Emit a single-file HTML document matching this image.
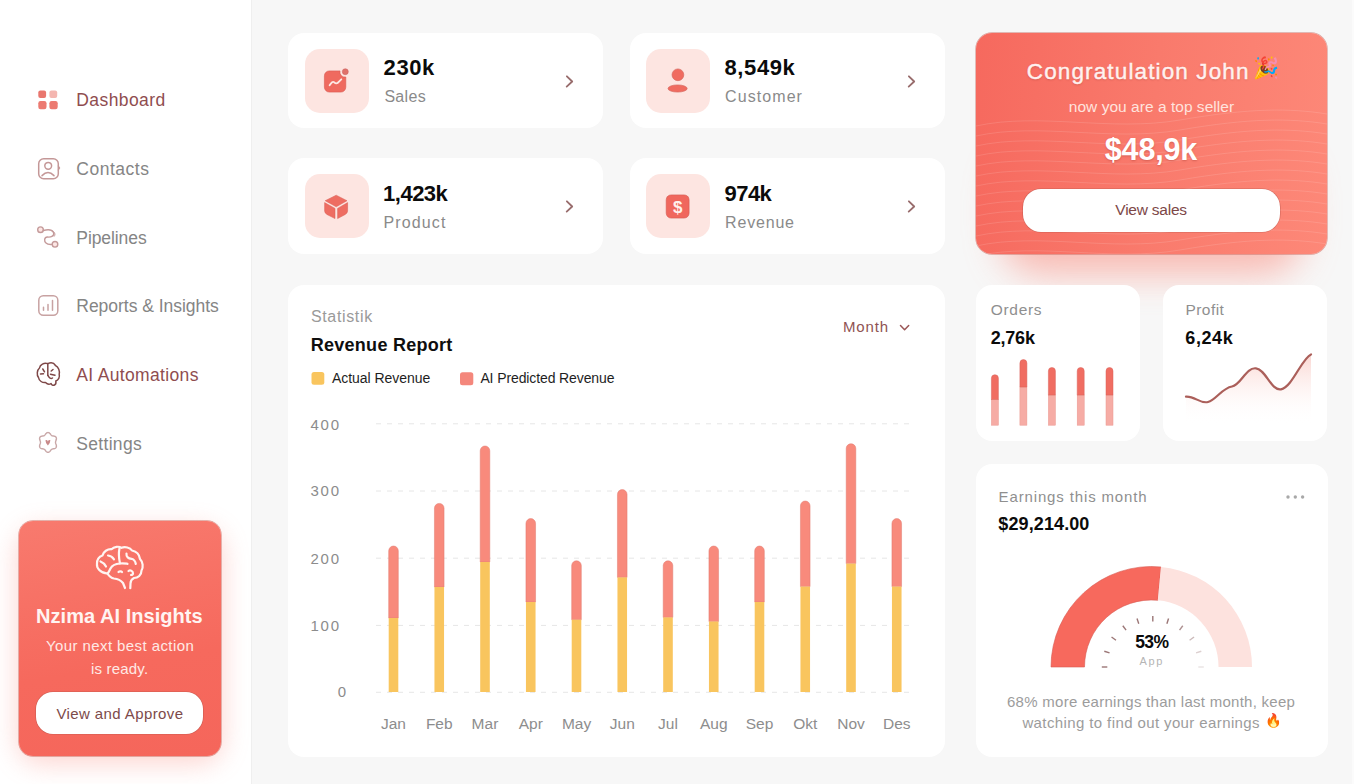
<!DOCTYPE html>
<html><head><meta charset="utf-8">
<style>
*{margin:0;padding:0;box-sizing:border-box}
html,body{width:1354px;height:784px;overflow:hidden}
body{font-family:"Liberation Sans",sans-serif;background:#f7f7f7;position:relative;color:#111}
.abs{position:absolute}
.t{position:absolute;line-height:1;white-space:nowrap}
#side{left:0;top:0;width:252px;height:784px;background:#fff;border-right:1px solid #efefef}
#rline{left:1352px;top:0;width:2px;height:784px;background:#fbfbfb}
.card{position:absolute;background:#fff;border-radius:16px}
.tile{position:absolute;width:64px;height:64px;border-radius:15px;background:#fde5e1}
.btn{position:absolute;background:#fff;border-radius:20px}
svg.full{position:absolute;left:0;top:0}
</style></head>
<body>
<div id="side" class="abs"></div>
<div id="rline" class="abs"></div>

<div class="abs" style="left:17px;top:528px;width:206px;height:236px;border-radius:24px;background:#f98a7e;filter:blur(13px);opacity:.35"></div>
<div class="card" id="ai" style="left:19px;top:521px;width:202px;height:235px;border-radius:14px;background:linear-gradient(170deg,#f87a6e 0%,#f6695d 60%,#f5665b 100%);box-shadow:0 0 0 .7px rgba(190,80,70,.55)"></div>
<div class="btn" style="left:36px;top:692px;width:167px;height:42px;border-radius:17px;box-shadow:0 0 0 .6px rgba(170,80,70,.5)"></div>

<div class="card" style="left:288px;top:33px;width:315px;height:95px"></div>
<div class="card" style="left:630px;top:33px;width:315px;height:95px"></div>
<div class="card" style="left:288px;top:158px;width:315px;height:96px"></div>
<div class="card" style="left:630px;top:158px;width:315px;height:96px"></div>
<div class="tile" style="left:304.5px;top:49px"></div>
<div class="tile" style="left:646px;top:49px"></div>
<div class="tile" style="left:304.5px;top:174px"></div>
<div class="tile" style="left:646px;top:174px"></div>

<div class="abs" style="left:1000px;top:150px;width:303px;height:125px;border-radius:40px;background:#fa8a7c;filter:blur(18px);opacity:.55"></div>
<div class="card" id="cg" style="left:976px;top:33px;width:351px;height:221px;border-radius:16px;background:linear-gradient(95deg,#f6695e 0%,#f97a6c 50%,#fd8878 100%);box-shadow:0 0 0 .7px rgba(190,80,70,.5)"></div>
<div class="btn" style="left:1022.5px;top:189px;width:257.5px;height:42.5px;border-radius:18px;box-shadow:0 0 0 .6px rgba(170,80,70,.5)"></div>

<div class="card" id="rep" style="left:288px;top:285px;width:657px;height:472px"></div>
<div class="card" style="left:976px;top:285px;width:164px;height:156px"></div>
<div class="card" style="left:1163px;top:285px;width:164px;height:156px"></div>
<div class="card" style="left:976px;top:464px;width:352px;height:293px"></div>

<svg class="full" width="1354" height="784" viewBox="0 0 1354 784">
<defs>
<clipPath id="cgc"><rect x="976" y="33" width="351" height="221" rx="16"/></clipPath>
<linearGradient id="pg" x1="0" y1="0" x2="0" y2="1"><stop offset="0" stop-color="#f9c9c3" stop-opacity=".75"/><stop offset="1" stop-color="#fff" stop-opacity="0"/></linearGradient>
</defs>
<!-- wave texture on congrats -->
<g clip-path="url(#cgc)" fill="none" stroke="#ffffff" stroke-opacity=".13" stroke-width="1">
<path d="M976 126 C1040 112 1110 132 1180 120 S1290 108 1327 114"/>
<path d="M976 136 C1040 122 1110 142 1180 130 S1290 118 1327 124"/>
<path d="M976 146 C1040 132 1110 152 1180 140 S1290 128 1327 134"/>
<path d="M976 156 C1040 142 1110 162 1180 150 S1290 138 1327 144"/>
<path d="M976 166 C1040 152 1110 172 1180 160 S1290 148 1327 154"/>
<path d="M976 176 C1040 162 1110 182 1180 170 S1290 158 1327 164"/>
<path d="M976 186 C1040 172 1110 192 1180 180 S1290 168 1327 174"/>
<path d="M976 196 C1040 182 1110 202 1180 190 S1290 178 1327 184"/>
<path d="M976 206 C1040 192 1110 212 1180 200 S1290 188 1327 194"/>
<path d="M976 216 C1040 202 1110 222 1180 210 S1290 198 1327 204"/>
<path d="M976 226 C1040 212 1110 232 1180 220 S1290 208 1327 214"/>
<path d="M976 236 C1040 222 1110 242 1180 230 S1290 218 1327 224"/>
<path d="M976 246 C1040 232 1110 252 1180 240 S1290 228 1327 234"/>
<path d="M976 256 C1040 242 1110 262 1180 250 S1290 238 1327 244"/>
</g>

<!-- sidebar icons -->
<g>
<rect x="38.3" y="90.5" width="7.8" height="7.4" rx="2" fill="#e9766e"/>
<rect x="49.4" y="90.5" width="7.8" height="7.4" rx="2" fill="#f4b6b0"/>
<rect x="38.3" y="101" width="8.2" height="8.3" rx="2.2" fill="#ec7a71"/>
<rect x="49.4" y="101" width="8.3" height="8.3" rx="2.2" fill="#ec7a71"/>
</g>
<g fill="none" stroke="#c49797" stroke-width="1.5" stroke-linecap="round">
<rect x="38.7" y="158.8" width="19.6" height="20" rx="5"/>
<circle cx="48.2" cy="165.8" r="3.4"/>
<path d="M42 175.6 Q48 169.5 54 175.6"/>
<path d="M58.3 166 l1.3 2 -1.3 2" stroke-width="1.2"/>
</g>
<g fill="none" stroke="#c49a9a" stroke-width="1.4" stroke-linecap="round">
<circle cx="40.5" cy="229.7" r="2.8" fill="#fde6e4"/>
<circle cx="55" cy="244.3" r="2.8" fill="#fde6e4"/>
<path d="M43.3 230.5 C47 229.5 52 229.5 53.5 232.5 C55 235.5 51 237.5 47.5 237 C44 237 44 241.5 46 243 C47.5 244.5 50 244.6 52.2 244.4"/>
<path d="M51.5 230.6 C54.5 231.3 56 234.2 54.3 236.3" stroke-width="1"/>
</g>
<g fill="none" stroke="#c8a2a2" stroke-width="1.5" stroke-linecap="round">
<rect x="38.8" y="295.8" width="19" height="19.4" rx="4.5"/>
<path d="M43.5 307.2V310.2M48 304.4V310.2M52.5 300.4V310.2"/>
</g>
<g transform="translate(30 354)" fill="none" stroke="#7e4747" stroke-width="1.5" stroke-linecap="round" stroke-linejoin="round">
<path d="M17.8 9.6 C14 8.5 10 10.5 9.5 14 C7 16 6.5 21 8.5 23.5 C9 27 12.5 29 15.5 28.5 C17 30 19.5 30.5 21 29.5 C21.5 31 23 31.8 24.5 31 C26.5 30 26 28.5 25.8 27 C28.5 26 30 23 29.2 20.5 C30 17 28.5 13 25.5 11.5 C24 9 21 8.3 17.8 9.6Z"/>
<path d="M17.8 9.6 V 21.5"/>
<path d="M12.8 15 L14.5 17.8 M10.5 20 L13.5 19.8 M23 15.5 L21.2 17 M20.5 20.2 L25 21.2 M18 21.5 C19 24 21 25 22.5 24"/>
</g>
<g fill="none" stroke="#c9a8a8" stroke-width="1.4">
<path d="M55.51 442.40 L55.54 442.82 L55.64 443.25 L55.80 443.70 L55.98 444.19 L56.17 444.70 L56.32 445.25 L56.41 445.80 L56.43 446.35 L56.34 446.87 L56.14 447.35 L55.85 447.77 L55.46 448.11 L55.00 448.37 L54.50 448.56 L53.98 448.69 L53.46 448.78 L52.97 448.86 L52.52 448.95 L52.11 449.07 L51.75 449.24 L51.43 449.48 L51.13 449.79 L50.83 450.16 L50.52 450.57 L50.19 451.00 L49.82 451.41 L49.41 451.77 L48.96 452.06 L48.49 452.24 L48.00 452.30 L47.51 452.24 L47.04 452.06 L46.59 451.77 L46.18 451.41 L45.81 451.00 L45.48 450.57 L45.17 450.16 L44.87 449.79 L44.57 449.48 L44.25 449.24 L43.89 449.07 L43.48 448.95 L43.03 448.86 L42.54 448.78 L42.02 448.69 L41.50 448.56 L41.00 448.37 L40.54 448.11 L40.15 447.77 L39.86 447.35 L39.66 446.87 L39.57 446.35 L39.59 445.80 L39.68 445.25 L39.83 444.70 L40.02 444.19 L40.20 443.70 L40.36 443.25 L40.46 442.82 L40.49 442.40 L40.46 441.98 L40.36 441.55 L40.20 441.10 L40.02 440.61 L39.83 440.10 L39.68 439.55 L39.59 439.00 L39.57 438.45 L39.66 437.93 L39.86 437.45 L40.15 437.03 L40.54 436.69 L41.00 436.43 L41.50 436.24 L42.02 436.11 L42.54 436.02 L43.03 435.94 L43.48 435.85 L43.89 435.73 L44.25 435.56 L44.57 435.32 L44.87 435.01 L45.17 434.64 L45.48 434.23 L45.81 433.80 L46.18 433.39 L46.59 433.03 L47.04 432.74 L47.51 432.56 L48.00 432.50 L48.49 432.56 L48.96 432.74 L49.41 433.03 L49.82 433.39 L50.19 433.80 L50.52 434.23 L50.83 434.64 L51.13 435.01 L51.43 435.32 L51.75 435.56 L52.11 435.73 L52.52 435.85 L52.97 435.94 L53.46 436.02 L53.98 436.11 L54.50 436.24 L55.00 436.43 L55.46 436.69 L55.85 437.03 L56.14 437.45 L56.34 437.93 L56.43 438.45 L56.41 439.00 L56.32 439.55 L56.17 440.10 L55.98 440.61 L55.80 441.10 L55.64 441.55 L55.54 441.98 L55.51 442.40Z"/>
</g>
<path d="M45.4 440.3 Q47.2 439.4 47.9 441.4 Q48.6 439.4 50.4 440.3 Q50.3 443.3 47.9 445.6 Q45.5 443.3 45.4 440.3Z" fill="#c98a8a"/>

<!-- AI brain icon (white) -->
<g transform="translate(90 545)" fill="none" stroke="#fff5f2" stroke-width="2.2" stroke-linecap="round" stroke-linejoin="round">
<path d="M17.5 28.5 C10 28 6.5 23 7 19 C6.5 15 9 11.5 12.5 10.5 C13.5 6.5 17.5 4 21.5 4.2 C24 1.5 29 1 31.5 2.8 C35 1.5 40 2.5 42 5.5 C46.5 6.5 49.5 10 50 14 C53 17 53.5 22 51.5 25.5 C51.5 30 48 33 44 33 C42 34 40.5 36 40.5 38.5 L40.3 43.2"/>
<path d="M17.5 28.5 C19 31 21 33 24 33.5 C28 33.8 31 35.5 33 38 L35 43"/>
<path d="M29.5 3.2 C28.5 8 29 14 30 18.5 C26 18.8 22 20.5 20.5 23.5 C19.5 25.5 18.8 27.5 17.5 28.5"/>
<path d="M30 18.5 C33 18 35.5 18.5 37.5 18.8"/>
<path d="M10.5 16.5 C13 17.5 15 19.5 16 21.5"/>
<path d="M18 10.5 C20.5 10.8 22.5 12 24 14.3"/>
<path d="M36.5 8.5 C36 12 38.5 13.5 41.5 13.8 C44 14.5 45.5 17 45.8 19"/>
<path d="M38.5 26 C40 24.8 43 25.5 43 28.3 C43 29.5 42 30 41 30"/>
<path d="M28.5 27 C29.5 26 31.5 26.2 32 27"/>
</g>
<!-- stat icons -->
<g>
<path d="M329.5 70.9 H340 A5 5 0 0 0 345.8 77 V87.1 A5 5 0 0 1 340.8 92.1 H329.4 A5 5 0 0 1 324.4 87.1 V75.9 A5 5 0 0 1 329.4 70.9Z" fill="#ef6a5f" stroke="#d95a53" stroke-width=".6"/>
<circle cx="345.3" cy="71.7" r="3" fill="#e0716a" stroke="#c86060" stroke-width=".5"/>
<path d="M329.6 85.3 C331 83.2 332.6 81 334.2 82.3 C335.6 83.6 337.2 84 339 81.6 L341.3 79.3" fill="none" stroke="#fde8e4" stroke-width="1.8" stroke-linecap="round" stroke-linejoin="round"/>
</g>
<g fill="#f06b60" stroke="#d25f57" stroke-width=".6">
<circle cx="677.9" cy="74.8" r="5.9"/>
<ellipse cx="677.6" cy="88.5" rx="9.6" ry="3.6"/>
</g>
<g fill="#ee6d62" stroke="#d65e56" stroke-width=".5">
<path d="M336.2 195.2 L347 200.7 L336.2 206.8 L325.2 200.7Z"/>
<path d="M324.6 202.6 L335 208.4 V218.6 L327 214.5 Q324.6 213 324.6 211 Z"/>
<path d="M347.6 202.6 L337.6 208.4 V218.6 L345.2 214.5 Q347.6 213 347.6 211 Z"/>
</g>
<g>
<rect x="666.2" y="194.9" width="22.9" height="23.2" rx="5" fill="#f0675d" stroke="#d35a53" stroke-width=".6"/>
<text x="677.7" y="212.8" font-family="Liberation Sans" font-weight="bold" font-size="17" fill="#fff0ec" text-anchor="middle">$</text>
</g>
<g transform="translate(0 .6)" fill="none" stroke="#986c6c" stroke-width="1.8" stroke-linecap="round" stroke-linejoin="round">
<path d="M566.9 75.7 L572.2 80.9 L566.7 86"/>
<path d="M908.9 75.7 L914.2 80.9 L908.7 86"/>
<path d="M566.9 200.7 L572.2 205.9 L566.7 211"/>
<path d="M908.9 200.7 L914.2 205.9 L908.7 211"/>
</g>

<!-- report card -->
<rect x="311.5" y="372" width="12.8" height="12.8" rx="2.5" fill="#f9c55e"/>
<rect x="460" y="372.3" width="13.3" height="13" rx="2.5" fill="#f4877c"/>
<path d="M900.5 325.5 L904.6 329.8 L908.7 325.5" fill="none" stroke="#9a5656" stroke-width="1.5" stroke-linecap="round" stroke-linejoin="round"/>
<line x1="376" y1="423.8" x2="910" y2="423.8" stroke="#e6e6e6" stroke-width="1" stroke-dasharray="5 6"/><line x1="376" y1="491" x2="910" y2="491" stroke="#e6e6e6" stroke-width="1" stroke-dasharray="5 6"/><line x1="376" y1="558.2" x2="910" y2="558.2" stroke="#e6e6e6" stroke-width="1" stroke-dasharray="5 6"/><line x1="376" y1="625.4" x2="910" y2="625.4" stroke="#e6e6e6" stroke-width="1" stroke-dasharray="5 6"/><line x1="376" y1="692.3" x2="910" y2="692.3" stroke="#e6e6e6" stroke-width="1" stroke-dasharray="5 6"/>
<path d="M388.70 618.0V550.8a4.80 4.80 0 0 1 9.60 0V618.0Z" fill="#f88a7c" stroke="#e07b70" stroke-width=".5"/>
<rect x="388.70" y="618.0" width="9.60" height="74.0" fill="#f9c55e"/>
<path d="M434.45 587.0V508.2a4.80 4.80 0 0 1 9.60 0V587.0Z" fill="#f88a7c" stroke="#e07b70" stroke-width=".5"/>
<rect x="434.45" y="587.0" width="9.60" height="105.0" fill="#f9c55e"/>
<path d="M480.20 562.0V450.8a4.80 4.80 0 0 1 9.60 0V562.0Z" fill="#f88a7c" stroke="#e07b70" stroke-width=".5"/>
<rect x="480.20" y="562.0" width="9.60" height="130.0" fill="#f9c55e"/>
<path d="M525.95 602.0V523.4a4.80 4.80 0 0 1 9.60 0V602.0Z" fill="#f88a7c" stroke="#e07b70" stroke-width=".5"/>
<rect x="525.95" y="602.0" width="9.60" height="90.0" fill="#f9c55e"/>
<path d="M571.70 619.7V565.6a4.80 4.80 0 0 1 9.60 0V619.7Z" fill="#f88a7c" stroke="#e07b70" stroke-width=".5"/>
<rect x="571.70" y="619.7" width="9.60" height="72.3" fill="#f9c55e"/>
<path d="M617.45 577.4V494.4a4.80 4.80 0 0 1 9.60 0V577.4Z" fill="#f88a7c" stroke="#e07b70" stroke-width=".5"/>
<rect x="617.45" y="577.4" width="9.60" height="114.6" fill="#f9c55e"/>
<path d="M663.20 617.4V565.6a4.80 4.80 0 0 1 9.60 0V617.4Z" fill="#f88a7c" stroke="#e07b70" stroke-width=".5"/>
<rect x="663.20" y="617.4" width="9.60" height="74.6" fill="#f9c55e"/>
<path d="M708.95 621.5V550.8a4.80 4.80 0 0 1 9.60 0V621.5Z" fill="#f88a7c" stroke="#e07b70" stroke-width=".5"/>
<rect x="708.95" y="621.5" width="9.60" height="70.5" fill="#f9c55e"/>
<path d="M754.70 602.0V550.8a4.80 4.80 0 0 1 9.60 0V602.0Z" fill="#f88a7c" stroke="#e07b70" stroke-width=".5"/>
<rect x="754.70" y="602.0" width="9.60" height="90.0" fill="#f9c55e"/>
<path d="M800.45 586.6V505.8a4.80 4.80 0 0 1 9.60 0V586.6Z" fill="#f88a7c" stroke="#e07b70" stroke-width=".5"/>
<rect x="800.45" y="586.6" width="9.60" height="105.4" fill="#f9c55e"/>
<path d="M846.20 563.6V448.5a4.80 4.80 0 0 1 9.60 0V563.6Z" fill="#f88a7c" stroke="#e07b70" stroke-width=".5"/>
<rect x="846.20" y="563.6" width="9.60" height="128.4" fill="#f9c55e"/>
<path d="M891.95 586.6V523.4a4.80 4.80 0 0 1 9.60 0V586.6Z" fill="#f88a7c" stroke="#e07b70" stroke-width=".5"/>
<rect x="891.95" y="586.6" width="9.60" height="105.4" fill="#f9c55e"/>

<!-- orders bars -->
<rect x="991.4" y="399.5" width="7" height="25.7" fill="#f6aca5" stroke="#eb9890" stroke-width=".5"/>
<path d="M991.4 399.5V378.2a3.5 3.5 0 0 1 7 0V399.5Z" fill="#f06d62" stroke="#d9625a" stroke-width=".5"/>
<rect x="1019.9" y="387" width="7" height="38.2" fill="#f6aca5" stroke="#eb9890" stroke-width=".5"/>
<path d="M1019.9 387V363.1a3.5 3.5 0 0 1 7 0V387Z" fill="#f06d62" stroke="#d9625a" stroke-width=".5"/>
<rect x="1048.4" y="395.1" width="7" height="30.1" fill="#f6aca5" stroke="#eb9890" stroke-width=".5"/>
<path d="M1048.4 395.1V371.0a3.5 3.5 0 0 1 7 0V395.1Z" fill="#f06d62" stroke="#d9625a" stroke-width=".5"/>
<rect x="1077.2" y="395.1" width="7" height="30.1" fill="#f6aca5" stroke="#eb9890" stroke-width=".5"/>
<path d="M1077.2 395.1V371.0a3.5 3.5 0 0 1 7 0V395.1Z" fill="#f06d62" stroke="#d9625a" stroke-width=".5"/>
<rect x="1106.0" y="395.1" width="7" height="30.1" fill="#f6aca5" stroke="#eb9890" stroke-width=".5"/>
<path d="M1106.0 395.1V371.0a3.5 3.5 0 0 1 7 0V395.1Z" fill="#f06d62" stroke="#d9625a" stroke-width=".5"/>
<!-- profit -->
<path d="M1186 396.6 C1195 396 1200 404 1208 402 C1216 400 1222 388 1232 386.5 C1241 385 1246 367 1256 368.3 C1266 369.5 1271 391 1281 389.3 C1292 387.5 1302 358 1311 354.4 V424 H1186Z" fill="url(#pg)"/>
<path d="M1186 396.6 C1195 396 1200 404 1208 402 C1216 400 1222 388 1232 386.5 C1241 385 1246 367 1256 368.3 C1266 369.5 1271 391 1281 389.3 C1292 387.5 1302 358 1311 354.4" fill="none" stroke="#ab5f5a" stroke-width="2.2" stroke-linecap="round"/>

<!-- earnings -->
<g fill="#a8a8a8"><circle cx="1288" cy="497" r="1.7"/><circle cx="1295.3" cy="497" r="1.7"/><circle cx="1302.6" cy="497" r="1.7"/></g>
<path d="M1051.0 667A100.5 100.5 0 0 1 1160.96 566.95L1157.81 600.30A67 67 0 0 0 1084.5 667Z" fill="#f7695d" stroke="#d65a52" stroke-width=".6"/>
<path d="M1160.96 566.95A100.5 100.5 0 0 1 1252.0 667L1218.5 667A67 67 0 0 0 1157.81 600.30Z" fill="#fde2de"/>
<line x1="1107.30" y1="667.00" x2="1101.80" y2="667.00" stroke="#9b7676" stroke-width="1.4"/>
<line x1="1109.53" y1="652.94" x2="1104.30" y2="651.24" stroke="#9b7676" stroke-width="1.4"/>
<line x1="1115.99" y1="640.26" x2="1111.54" y2="637.02" stroke="#9b7676" stroke-width="1.4"/>
<line x1="1126.06" y1="630.19" x2="1122.82" y2="625.74" stroke="#9b7676" stroke-width="1.4"/>
<line x1="1138.74" y1="623.73" x2="1137.04" y2="618.50" stroke="#9b7676" stroke-width="1.4"/>
<line x1="1152.80" y1="621.50" x2="1152.80" y2="616.00" stroke="#9b7676" stroke-width="1.4"/>
<line x1="1166.86" y1="623.73" x2="1168.56" y2="618.50" stroke="#9b7676" stroke-width="1.4"/>
<line x1="1179.54" y1="630.19" x2="1182.78" y2="625.74" stroke="#ad9090" stroke-width="1.4"/>
<line x1="1189.61" y1="640.26" x2="1194.06" y2="637.02" stroke="#cbbaba" stroke-width="1.4"/>
<line x1="1196.07" y1="652.94" x2="1201.30" y2="651.24" stroke="#ddd0d0" stroke-width="1.4"/>
<line x1="1198.30" y1="667.00" x2="1203.80" y2="667.00" stroke="#e9e2e2" stroke-width="1.4"/>
</svg>
<div class="t" style="left:76.3px;top:91.9px;font-size:17.5px;font-weight:400;color:#8f4d4f;letter-spacing:0.41px;">Dashboard</div>
<div class="t" style="left:76.3px;top:160.9px;font-size:17.5px;font-weight:400;color:#858585;letter-spacing:0.52px;">Contacts</div>
<div class="t" style="left:76.3px;top:229.7px;font-size:17.5px;font-weight:400;color:#858585;letter-spacing:-0.08px;">Pipelines</div>
<div class="t" style="left:76.3px;top:298.3px;font-size:17.5px;font-weight:400;color:#858585;letter-spacing:-0.03px;">Reports &amp; Insights</div>
<div class="t" style="left:76.3px;top:366.9px;font-size:17.5px;font-weight:400;color:#8f4d4f;letter-spacing:0.34px;">AI Automations</div>
<div class="t" style="left:76.3px;top:435.6px;font-size:17.5px;font-weight:400;color:#858585;letter-spacing:0.31px;">Settings</div>
<div class="t" style="left:36.1px;top:606.3px;font-size:20px;font-weight:700;color:#fff4f2;letter-spacing:0.04px;">Nzima AI Insights</div>
<div class="t" style="left:46.0px;top:637.8px;font-size:15px;font-weight:400;color:#ffe9e5;letter-spacing:0.41px;">Your next best action</div>
<div class="t" style="left:90.9px;top:660.5px;font-size:15px;font-weight:400;color:#ffe9e5;letter-spacing:0.20px;">is ready.</div>
<div class="t" style="left:56.4px;top:706.0px;font-size:15px;font-weight:400;color:#7d4a4a;letter-spacing:0.40px;">View and Approve</div>
<div class="t" style="left:383.6px;top:57.2px;font-size:22px;font-weight:700;color:#0b0b0b;letter-spacing:0.60px;">230k</div>
<div class="t" style="left:384.4px;top:88.9px;font-size:16px;font-weight:400;color:#8a8a8a;letter-spacing:0.31px;">Sales</div>
<div class="t" style="left:724.5px;top:56.9px;font-size:22px;font-weight:700;color:#0b0b0b;letter-spacing:0.61px;">8,549k</div>
<div class="t" style="left:725.1px;top:89.4px;font-size:16px;font-weight:400;color:#8a8a8a;letter-spacing:1.07px;">Customer</div>
<div class="t" style="left:383.1px;top:182.8px;font-size:22px;font-weight:700;color:#0b0b0b;letter-spacing:-0.51px;">1,423k</div>
<div class="t" style="left:383.4px;top:215.4px;font-size:16px;font-weight:400;color:#8a8a8a;letter-spacing:1.14px;">Product</div>
<div class="t" style="left:724.5px;top:182.8px;font-size:22px;font-weight:700;color:#0b0b0b;letter-spacing:-0.53px;">974k</div>
<div class="t" style="left:725.1px;top:215.0px;font-size:16px;font-weight:400;color:#8a8a8a;letter-spacing:0.81px;">Revenue</div>
<div class="t" style="left:1026.8px;top:60.7px;font-size:22.5px;font-weight:400;color:#fff1ef;letter-spacing:1.13px;text-shadow:0 1px 2px rgba(150,50,40,.35);-webkit-text-stroke:.45px #fff1ef;">Congratulation John</div>
<div class="t" style="left:1068.8px;top:98.9px;font-size:15.5px;font-weight:400;color:#ffe3de;letter-spacing:0.03px;">now you are a top seller</div>
<div class="t" style="left:1104.8px;top:133.5px;font-size:30.5px;font-weight:700;color:#fff;letter-spacing:-0.17px;text-shadow:0 1px 2px rgba(150,50,40,.35);">$48,9k</div>
<div class="t" style="left:1115.3px;top:202.2px;font-size:15.5px;font-weight:400;color:#7d4747;letter-spacing:-0.23px;">View sales</div>
<div class="t" style="left:310.9px;top:309.0px;font-size:16px;font-weight:400;color:#9a9a9a;letter-spacing:0.66px;">Statistik</div>
<div class="t" style="left:310.8px;top:336.2px;font-size:18px;font-weight:700;color:#0e0e0e;letter-spacing:0.26px;">Revenue Report</div>
<div class="t" style="left:331.9px;top:370.7px;font-size:14px;font-weight:400;color:#1e1e1e;letter-spacing:-0.04px;">Actual Revenue</div>
<div class="t" style="left:480.4px;top:370.7px;font-size:14px;font-weight:400;color:#1e1e1e;letter-spacing:-0.11px;">AI Predicted Revenue</div>
<div class="t" style="left:842.9px;top:319.1px;font-size:15px;font-weight:400;color:#8f5353;letter-spacing:0.87px;">Month</div>
<div class="t" style="left:310.4px;top:416.6px;font-size:15px;font-weight:400;color:#8c8c8c;letter-spacing:1.83px;">400</div>
<div class="t" style="left:310.4px;top:483.4px;font-size:15px;font-weight:400;color:#8c8c8c;letter-spacing:1.83px;">300</div>
<div class="t" style="left:310.4px;top:551.0px;font-size:15px;font-weight:400;color:#8c8c8c;letter-spacing:1.83px;">200</div>
<div class="t" style="left:310.4px;top:617.8px;font-size:15px;font-weight:400;color:#8c8c8c;letter-spacing:1.83px;">100</div>
<div class="t" style="left:337.7px;top:684.4px;font-size:15px;font-weight:400;color:#8c8c8c;letter-spacing:0.00px;">0</div>
<div class="t" style="left:381.0px;top:716.2px;font-size:15.5px;font-weight:400;color:#8d8d8d;letter-spacing:0.00px;">Jan</div>
<div class="t" style="left:425.9px;top:716.2px;font-size:15.5px;font-weight:400;color:#8d8d8d;letter-spacing:0.00px;">Feb</div>
<div class="t" style="left:471.6px;top:716.2px;font-size:15.5px;font-weight:400;color:#8d8d8d;letter-spacing:0.00px;">Mar</div>
<div class="t" style="left:518.7px;top:716.2px;font-size:15.5px;font-weight:400;color:#8d8d8d;letter-spacing:0.00px;">Apr</div>
<div class="t" style="left:561.9px;top:716.2px;font-size:15.5px;font-weight:400;color:#8d8d8d;letter-spacing:0.00px;">May</div>
<div class="t" style="left:609.8px;top:716.2px;font-size:15.5px;font-weight:400;color:#8d8d8d;letter-spacing:0.00px;">Jun</div>
<div class="t" style="left:658.1px;top:716.2px;font-size:15.5px;font-weight:400;color:#8d8d8d;letter-spacing:0.00px;">Jul</div>
<div class="t" style="left:700.0px;top:716.2px;font-size:15.5px;font-weight:400;color:#8d8d8d;letter-spacing:0.00px;">Aug</div>
<div class="t" style="left:745.7px;top:716.2px;font-size:15.5px;font-weight:400;color:#8d8d8d;letter-spacing:0.00px;">Sep</div>
<div class="t" style="left:793.2px;top:716.2px;font-size:15.5px;font-weight:400;color:#8d8d8d;letter-spacing:0.00px;">Okt</div>
<div class="t" style="left:837.2px;top:716.2px;font-size:15.5px;font-weight:400;color:#8d8d8d;letter-spacing:0.00px;">Nov</div>
<div class="t" style="left:883.0px;top:716.2px;font-size:15.5px;font-weight:400;color:#8d8d8d;letter-spacing:0.00px;">Des</div>
<div class="t" style="left:990.8px;top:301.8px;font-size:15.5px;font-weight:400;color:#8f8f8f;letter-spacing:0.67px;">Orders</div>
<div class="t" style="left:990.7px;top:328.8px;font-size:18px;font-weight:700;color:#0b0b0b;letter-spacing:-0.20px;">2,76k</div>
<div class="t" style="left:1185.4px;top:301.8px;font-size:15.5px;font-weight:400;color:#8f8f8f;letter-spacing:0.47px;">Profit</div>
<div class="t" style="left:1185.3px;top:328.8px;font-size:18px;font-weight:700;color:#0b0b0b;letter-spacing:0.60px;">6,24k</div>
<div class="t" style="left:998.6px;top:489.1px;font-size:15px;font-weight:400;color:#8f8f8f;letter-spacing:0.86px;">Earnings this month</div>
<div class="t" style="left:998.3px;top:515.3px;font-size:18px;font-weight:700;color:#0b0b0b;letter-spacing:0.11px;">$29,214.00</div>
<div class="t" style="left:1135.2px;top:634.3px;font-size:17.5px;font-weight:700;color:#0b0b0b;letter-spacing:-0.57px;">53%</div>
<div class="t" style="left:1139.6px;top:656.1px;font-size:11px;font-weight:400;color:#b5b5b5;letter-spacing:1.65px;">App</div>
<div class="t" style="left:1007.0px;top:693.6px;font-size:15px;font-weight:400;color:#9c9c9c;letter-spacing:0.27px;">68% more earnings than last month, keep</div>
<div class="t" style="left:1022.4px;top:714.9px;font-size:15px;font-weight:400;color:#9c9c9c;letter-spacing:0.39px;">watching to find out your earnings</div>
<div class="t" style="left:1253px;top:57px;font-size:21px">🎉</div>
<div class="t" style="left:1265px;top:713.5px;font-size:13.5px">🔥</div>
</body></html>
